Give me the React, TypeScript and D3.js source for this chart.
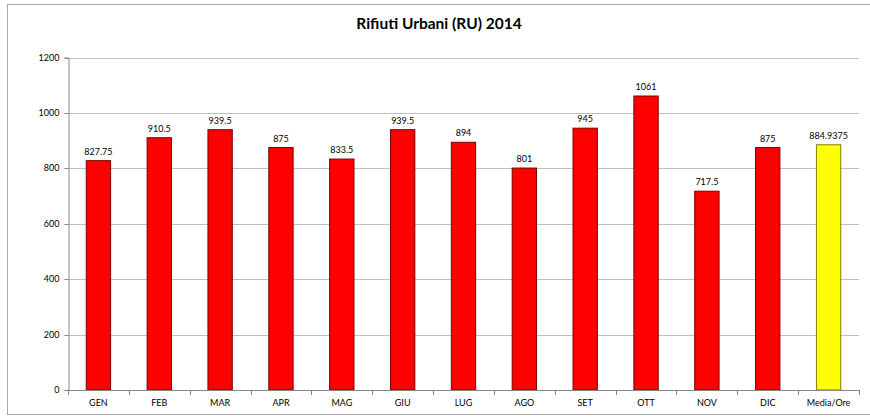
import React, { useEffect, useRef } from 'react';
import * as d3 from 'd3';

const categories = ['GEN', 'FEB', 'MAR', 'APR', 'MAG', 'GIU', 'LUG', 'AGO', 'SET', 'OTT', 'NOV', 'DIC', 'Media/Ore'];
const values = [827.75, 910.5, 939.5, 875, 833.5, 939.5, 894, 801, 945, 1061, 717.5, 875, 884.9375];
const yTicks = [0, 200, 400, 600, 800, 1000, 1200];
const title = 'Rifiuti Urbani (RU) 2014';

const App: React.FC = () => {
  const svgRef = useRef<SVGSVGElement | null>(null);

  useEffect(() => {
    const svg = d3.select(svgRef.current);
    svg.selectAll('*').remove();

    const W = 870;
    const H = 417;
    const left = 68;
    const right = 859;
    const top = 57.5;
    const bottom = 390;
    const font = 'Lato, Open Sans, sans-serif';

    svg.attr('width', W).attr('height', H);

    // outer frame (right edge runs off the picture)
    svg
      .append('rect')
      .attr('x', 7.5)
      .attr('y', 4.5)
      .attr('width', 880)
      .attr('height', 410)
      .attr('fill', '#fff')
      .attr('stroke', '#a6a6a6');

    svg
      .append('text')
      .attr('x', 439)
      .attr('y', 29)
      .attr('text-anchor', 'middle')
      .attr('font-family', font)
      .attr('font-weight', 'bold')
      .attr('font-size', 15.5)
      .text(title);

    const x = d3.scaleBand<string>().domain(categories).range([left, right]).paddingInner(0.6).paddingOuter(0.3);
    const y = d3.scaleLinear().domain([0, 1200]).range([bottom, top]);

    // gridlines
    svg
      .append('g')
      .selectAll('line')
      .data(yTicks.filter(t => t > 0))
      .join('line')
      .attr('x1', left)
      .attr('x2', right)
      .attr('y1', d => Math.round(y(d)) + 0.5)
      .attr('y2', d => Math.round(y(d)) + 0.5)
      .attr('stroke', '#bfbfbf');

    // y axis
    const yAxis = svg
      .append('g')
      .attr('transform', `translate(${left + 0.5},0)`)
      .call(d3.axisLeft(y).tickValues(yTicks).tickFormat(d3.format('d')).tickSize(4).tickPadding(5));
    yAxis.select('.domain').attr('stroke', '#868686');
    yAxis.selectAll('.tick line').attr('stroke', '#868686');
    yAxis.selectAll('text').attr('font-family', font).attr('font-size', 9).attr('fill', '#000');
    yAxis.selectAll('.tick').attr('transform', (d: any) => `translate(0,${Math.round(y(d)) + 0.5})`);

    // bars
    svg
      .append('g')
      .selectAll('rect')
      .data(values)
      .join('rect')
      .attr('x', (d, i) => (x(categories[i]) as number))
      .attr('y', d => y(d))
      .attr('width', x.bandwidth())
      .attr('height', d => bottom - y(d))
      .attr('fill', (d, i) => (i === categories.length - 1 ? '#ffff00' : '#ff0000'))
      .attr('stroke', (d, i) => (i === categories.length - 1 ? '#7f7f00' : '#7a0000'))
      .attr('stroke-width', 1);

    // value labels
    svg
      .append('g')
      .selectAll('text')
      .data(values)
      .join('text')
      .attr('x', (d, i) => (x(categories[i]) as number) + x.bandwidth() / 2)
      .attr('y', d => y(d) - 6)
      .attr('text-anchor', 'middle')
      .attr('font-family', font)
      .attr('font-size', 9)
      .text(d => String(d));

    // x axis
    const step = (right - left) / categories.length;
    const xa = svg.append('g');
    xa.append('line')
      .attr('x1', left)
      .attr('x2', right)
      .attr('y1', bottom + 0.5)
      .attr('y2', bottom + 0.5)
      .attr('stroke', '#868686');
    xa.selectAll('line.tk')
      .data(d3.range(categories.length + 1))
      .join('line')
      .attr('class', 'tk')
      .attr('x1', i => Math.round(left + i * step) + 0.5)
      .attr('x2', i => Math.round(left + i * step) + 0.5)
      .attr('y1', bottom)
      .attr('y2', bottom + 5)
      .attr('stroke', '#868686');
    xa.selectAll('text')
      .data(categories)
      .join('text')
      .attr('x', d => (x(d) as number) + x.bandwidth() / 2)
      .attr('y', bottom + 16)
      .attr('text-anchor', 'middle')
      .attr('font-family', font)
      .attr('font-size', 9)
      .text(d => d);
  }, []);

  return (
    <div style={{ position: 'absolute', left: 0, top: 0 }}>
      <svg ref={svgRef} />
    </div>
  );
};

export default App;
